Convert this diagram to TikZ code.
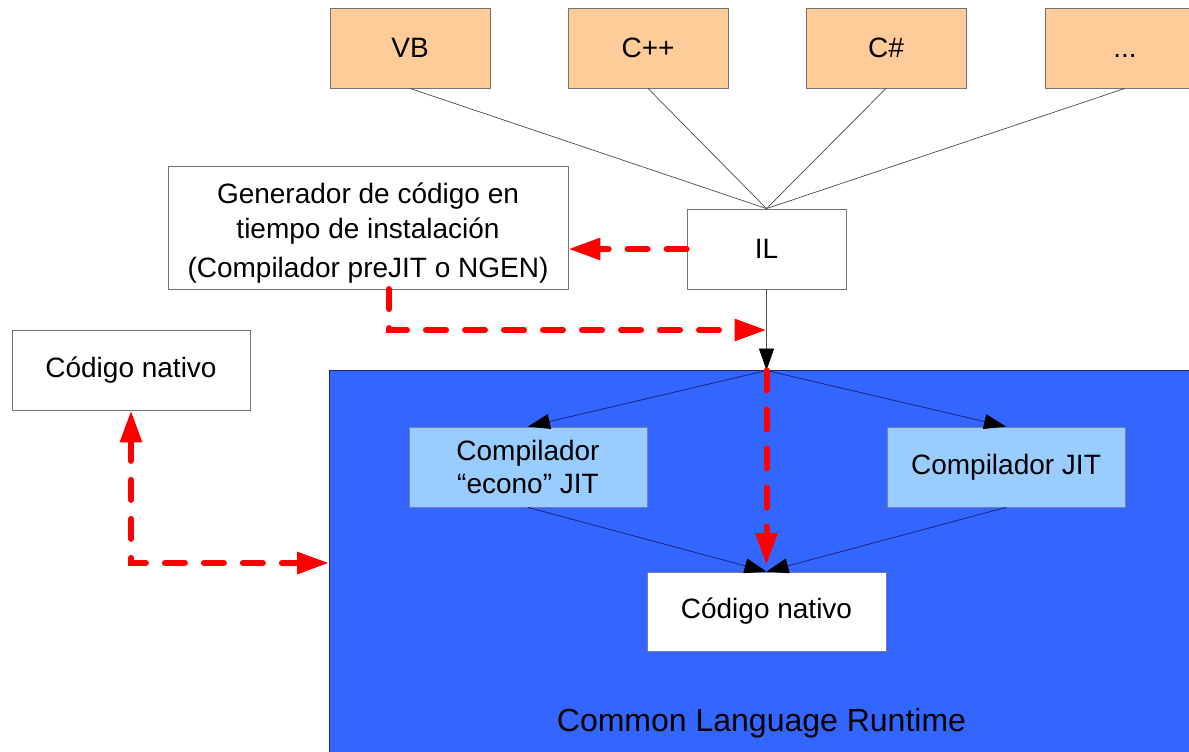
\documentclass[tikz,border=0pt]{standalone}
\usepackage{fontspec}
\setmainfont{Liberation Sans}
\usetikzlibrary{arrows.meta,calc}
\definecolor{langfill}{HTML}{FFCC99}
\definecolor{compfill}{HTML}{99CCFF}
\definecolor{clrfill}{HTML}{3366FF}
\definecolor{clrline}{HTML}{1A237E}
\definecolor{dashred}{HTML}{FF0000}
\begin{document}
\begin{tikzpicture}[x=1pt,y=-1pt,
  box/.style={draw=black!55, line width=0.8pt, inner sep=0pt,
    minimum width=238pt, minimum height=80pt, align=center,
    font=\fontsize{28}{33}\selectfont},
  langbox/.style={box, fill=langfill, minimum width=160pt},
  compbox/.style={box, fill=compfill, draw=clrline!60},
  thinline/.style={draw=black!70, line width=0.7pt},
  blackarrow/.style={draw=clrline, line width=0.8pt, -{Triangle[length=22pt,width=15pt,color=black]}},
  topblackarrow/.style={draw=black!70, line width=0.8pt, -{Triangle[length=22pt,width=15pt,color=black]}},
  reddash/.style={draw=dashred, line width=6pt, line cap=round,
    dash pattern=on 20pt off 19pt},
  redtip/.style={-{Triangle[length=32pt,width=21pt,fill=dashred]}},
  redtips/.style={{Triangle[length=32pt,width=21pt,fill=dashred]}-{Triangle[length=32pt,width=21pt,fill=dashred]}}
]
\useasboundingbox (0,0) rectangle (1189,752);
\clip (0,0) rectangle (1189,752);
\fill[white] (0,0) rectangle (1189,752);

% CLR background
\draw[fill=clrfill, draw=clrline, line width=0.8pt] (329,370.5) rectangle (1220,780);
\node[font=\fontsize{32}{38}\selectfont, anchor=base] (clrlabel) at (761.5,731) {Common Language Runtime};

% language boxes
\node[langbox] (vb) at (410,48) {VB};
\node[langbox] (cpp) at (648,48) {C++};
\node[langbox] (cs) at (886,48) {C\#};
\node[langbox] (more) at (1125,48) {\vphantom{VB}...};

% IL
\node[box, fill=white, minimum width=159pt] (il) at (766.5,249) {IL};

% generator
\node[box, fill=white, minimum width=400pt, minimum height=123pt] (gen) at (368,227.5) {};
\node[align=center, inner sep=0pt, font=\fontsize{28}{34.5}\selectfont] (gentxt) at (368,233.5)
  {Generador de código en\\ tiempo de instalación\\[5pt](Compilador preJIT o NGEN)};

% left native code
\node[box, fill=white] (natleft) at (131,370) {Código nativo};

% compilers and inner native code
\node[compbox] (econo) at (528,467) {Compilador\\“econo” JIT};
\node[compbox] (jit) at (1006,467) {Compilador JIT};
\node[box, fill=white, draw=clrline!60, minimum width=239pt, minimum height=79pt] (natin) at (766.5,611.5) {Código nativo};

% helper coordinates
\coordinate (clrtop) at (766.5,370.5);
\coordinate (ilmid) at (766.5,330);
\coordinate (genout) at (389,289);
\coordinate (redend) at (766.5,565);
\coordinate (clrleft) at (329,563);

% lines from languages to IL
\foreach \n in {vb,cpp,cs,more} \draw[thinline] (\n.south) -- (il.north);

% IL down to CLR
\draw[topblackarrow] (il.south) -- (clrtop);

% CLR internal arrows
\draw[blackarrow] (clrtop) -- (econo.north);
\draw[blackarrow] (clrtop) -- (jit.north);
\draw[blackarrow] (econo.south) -- (natin.north);
\draw[blackarrow] (jit.south) -- (natin.north);

% red dashed arrows
\draw[reddash, redtip] (il.west) -- (il.west -| gen.east);
\draw[reddash, redtip] (genout) |- (ilmid);
\draw[reddash, redtip] (clrtop) -- (redend);
\draw[reddash, redtips] (natleft.south) |- (clrleft);
\end{tikzpicture}
\end{document}
